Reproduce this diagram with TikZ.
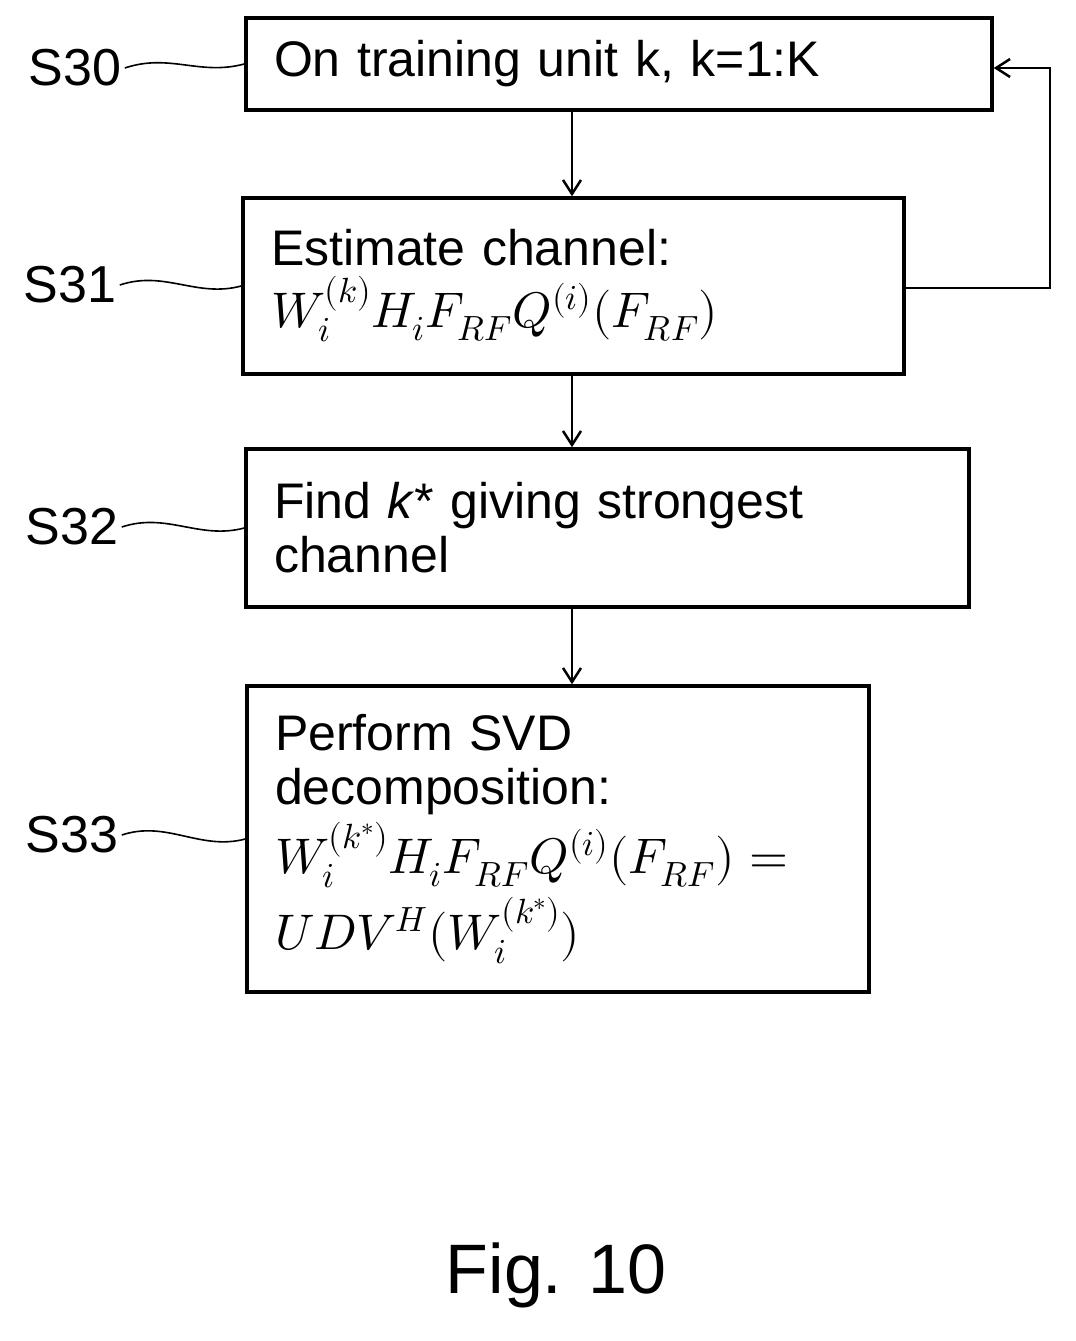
\documentclass[tikz,border=0pt]{standalone}
\usepackage{fontspec}
\usepackage{unicode-math}
\setmainfont{Liberation Sans}
\usetikzlibrary{arrows.meta}
\begin{document}
\begin{tikzpicture}[x=1pt,y=-1pt,
  box/.style={draw,line width=3.5pt,align=left,inner xsep=28pt,font=\fontsize{50}{54}\selectfont},
  lab/.style={font=\fontsize{52}{56}\selectfont},
  ar/.style={line width=2pt,-{Straight Barb[length=14pt,width=18pt,line width=2.5pt]}},
  lead/.style={line width=1.6pt}]
\useasboundingbox (0,0) rectangle (1076,1341);
\node[box,minimum width=746pt,minimum height=92pt,text width=690pt] (b30) at (619,64) {On training unit k, k=1:K};
\node[box,minimum width=661pt,minimum height=176pt,text width=605pt] (b31) at (573.5,286) {Estimate channel:\\[8pt] $W_i^{(k)}H_iF_{RF}Q^{(i)}(F_{RF})$};
\node[box,minimum width=723pt,minimum height=158pt,text width=667pt] (b32) at (607.5,528) {Find \textit{k*} giving strongest\\ channel};
\node[box,minimum width=622pt,minimum height=306pt,text width=566pt] (b33) at (558,839) {Perform SVD\\ decomposition:\\[6pt] $W_i^{(k^*)}H_iF_{RF}Q^{(i)}(F_{RF})=$\\[8pt] $UDV^H(W_i^{(k^*)})$};
\node[lab] (l30) at (75,68) {S30};
\node[lab] (l31) at (70,285) {S31};
\node[lab] (l32) at (72,527) {S32};
\node[lab] (l33) at (72,835) {S33};
\draw[lead] (l30.east) .. controls +(45,-15) and +(-45,12) .. (b30.west);
\draw[lead] (l31.east) .. controls +(45,-15) and +(-45,12) .. (b31.west);
\draw[lead] (l32.east) .. controls +(45,-15) and +(-45,12) .. (b32.west);
\draw[lead] (l33.east) .. controls +(45,-15) and +(-45,12) .. (b33.west);
\coordinate (c1) at (572,110);
\draw[ar] (c1) -- (c1 |- b31.north);
\coordinate (c2) at (572,374);
\draw[ar] (c2) -- (c2 |- b32.north);
\coordinate (c3) at (572,607);
\draw[ar] (c3) -- (c3 |- b33.north);
\coordinate (f1) at (1050,288);
\coordinate (f2) at (1050,68);
\draw[ar] (b31.east |- f1) -- (f1) -- (f2) -- (b30.east |- f2);
\node[font=\fontsize{70}{76}\selectfont] (fig) at (556,1275) {Fig. 10};
\end{tikzpicture}
\end{document}
